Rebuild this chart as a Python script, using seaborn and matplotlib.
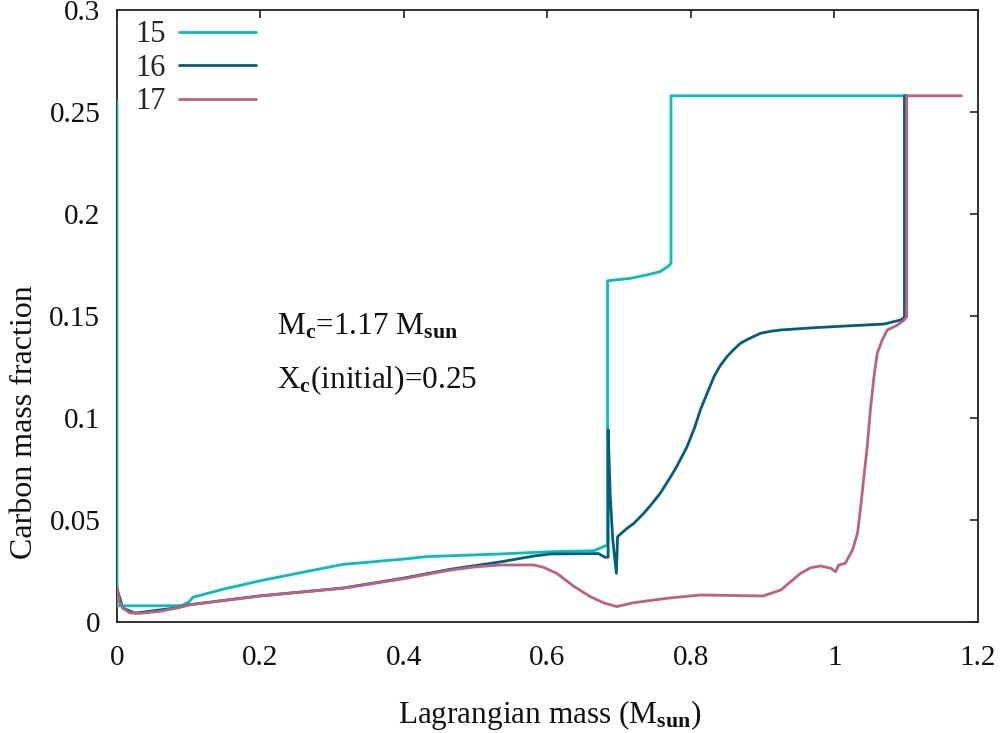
import numpy as np
import pandas as pd
import matplotlib
matplotlib.use("Agg")
import matplotlib.pyplot as plt
import seaborn as sns

# Carbon mass fraction profiles versus Lagrangian mass for three models
x15 = [0.0, 0.0, 0.02, 0.06, 0.09, 0.10, 0.106, 0.15, 0.20, 0.27, 0.315, 0.40,
       0.432, 0.534, 0.604, 0.665, 0.678, 0.6837, 0.6837, 0.7157, 0.7387, 0.757,
       0.769, 0.7721, 0.7721, 1.1017]
y15 = [0.255, 0.0077, 0.0077, 0.0077, 0.0078, 0.0095, 0.0119, 0.0160, 0.0200,
       0.0249, 0.0280, 0.0306, 0.0318, 0.0331, 0.0342, 0.0347, 0.0367, 0.0375,
       0.167, 0.1682, 0.1699, 0.1715, 0.1743, 0.1756, 0.2577, 0.2577]

x16 = [0.0, 0.008, 0.025, 0.083, 0.10, 0.20, 0.315, 0.40, 0.4645, 0.534, 0.581,
       0.604, 0.671, 0.680, 0.6845, 0.6845, 0.6875, 0.691, 0.696, 0.6977, 0.711,
       0.720, 0.734, 0.745, 0.757, 0.770, 0.780, 0.7945, 0.805, 0.813, 0.832,
       0.840, 0.850, 0.860, 0.869, 0.880, 0.897, 0.910, 0.925, 0.971, 1.018,
       1.069, 1.092, 1.0975, 1.0975, 1.1006]
y16 = [0.016, 0.0066, 0.0041, 0.0067, 0.0082, 0.0126, 0.0164, 0.0213, 0.0256,
       0.0292, 0.0321, 0.0331, 0.0333, 0.0315, 0.0315, 0.0939, 0.0612, 0.0400,
       0.0236, 0.0416, 0.0457, 0.0480, 0.0530, 0.0575, 0.0628, 0.0700, 0.0759,
       0.0857, 0.0950, 0.1037, 0.1200, 0.1250, 0.1298, 0.1335, 0.1364, 0.1385,
       0.1413, 0.1422, 0.1429, 0.1440, 0.1449, 0.1458, 0.1478, 0.1490, 0.2577,
       0.2577]

x17 = [0.0, 0.003, 0.008, 0.018, 0.032, 0.06, 0.083, 0.10, 0.20, 0.315, 0.40,
       0.4645, 0.50, 0.534, 0.581, 0.594, 0.613, 0.636, 0.6595, 0.678, 0.6966,
       0.720, 0.7666, 0.813, 0.85, 0.90, 0.925, 0.9527, 0.967, 0.981, 0.995,
       1.0015, 1.006, 1.015, 1.025, 1.032, 1.036, 1.041, 1.0456, 1.050, 1.055,
       1.0596, 1.0665, 1.0735, 1.0875, 1.097, 1.1006, 1.1006, 1.1768]
y17 = [0.017, 0.010, 0.0066, 0.0042, 0.0040, 0.0050, 0.0066, 0.0081, 0.0125,
       0.0163, 0.0210, 0.0252, 0.0268, 0.0277, 0.0277, 0.0266, 0.0236, 0.0174,
       0.0122, 0.0092, 0.0073, 0.0092, 0.0114, 0.0130, 0.0128, 0.0125, 0.0154,
       0.0236, 0.0264, 0.0272, 0.0261, 0.0244, 0.0277, 0.0285, 0.0350, 0.0432,
       0.0547, 0.0710, 0.0857, 0.1037, 0.1200, 0.1315, 0.1380, 0.1429, 0.1453,
       0.1478, 0.1494, 0.2577, 0.2577]

models = ["15", "16", "17"]
colors = ["#00C0C0", "#005F80", "#C0607F"]

x_ticks = [0, 0.2, 0.4, 0.6, 0.8, 1.0, 1.2]
x_tick_labels = ["0", "0.2", "0.4", "0.6", "0.8", "1", "1.2"]
y_ticks = [0, 0.05, 0.10, 0.15, 0.20, 0.25, 0.30]
y_tick_labels = ["0", "0.05", "0.1", "0.15", "0.2", "0.25", "0.3"]

frames = []
for name, xs, ys in zip(models, [x15, x16, x17], [y15, y16, y17]):
    frames.append(pd.DataFrame({"mass": xs, "carbon": ys, "model": name}))
df = pd.concat(frames, ignore_index=True)

sns.set_theme(style="white")
plt.rcParams["font.family"] = ["Liberation Serif", "DejaVu Serif"]
plt.rcParams["mathtext.fontset"] = "custom"
plt.rcParams["mathtext.rm"] = "Liberation Serif"
plt.rcParams["mathtext.it"] = "Liberation Serif:italic"
plt.rcParams["mathtext.bf"] = "Liberation Serif:bold"

fig = plt.figure(figsize=(10.03, 7.33), dpi=100)
ax = fig.add_axes([117 / 1003, 1 - 621.5 / 733, 861 / 1003, 612 / 733])

sns.lineplot(data=df, x="mass", y="carbon", hue="model", hue_order=models,
             palette=colors, sort=False, estimator=None, units="model",
             linewidth=2.0, ax=ax, legend=False, zorder=3)

ax.set_xlim(0, 1.2)
ax.set_ylim(0, 0.3)
ax.set_xticks(x_ticks)
ax.set_xticklabels(x_tick_labels)
ax.set_yticks(y_ticks)
ax.set_yticklabels(y_tick_labels)
ax.tick_params(direction="in", length=6, width=1.2, color="#222222",
               top=True, right=True, labelsize=21, labelcolor="#111111")
ax.tick_params(axis="x", pad=17)
ax.tick_params(axis="y", pad=12)
for sp in ax.spines.values():
    sp.set_color("#222222")
    sp.set_linewidth(1.3)
ax.set_xlabel("")
ax.set_ylabel("")
ax.grid(False)

fig.text(550 / 1003, 1 - 715 / 733, r"Lagrangian mass (M$_{\mathbf{sun}}$)",
         ha="center", va="center", fontsize=22.5, color="#111111")
fig.text(25 / 1003, 1 - 422 / 733, "Carbon mass fraction", rotation=90,
         ha="center", va="center", fontsize=23, color="#111111")

ax.text(0.186, 0.481, r"M$_{\mathbf{c}}$=1.17 M$_{\mathbf{sun}}$",
        transform=ax.transAxes, ha="left", va="center", fontsize=22.5,
        color="#111111")
ax.text(0.186, 0.395, r"X$_{\mathbf{c}}$(initial)=0.25",
        transform=ax.transAxes, ha="left", va="center", fontsize=22.5,
        color="#111111")

handles = [plt.Line2D([], [], color=c, linewidth=2.0) for c in colors]
ax.legend(handles, models, loc="upper left", bbox_to_anchor=(0.012, 0.995),
          frameon=False, markerfirst=False, fontsize=22, handlelength=2.5,
          handletextpad=0.45, labelspacing=0.15, borderaxespad=0.0,
          borderpad=0.25)

fig.savefig("out.png", dpi=100)
